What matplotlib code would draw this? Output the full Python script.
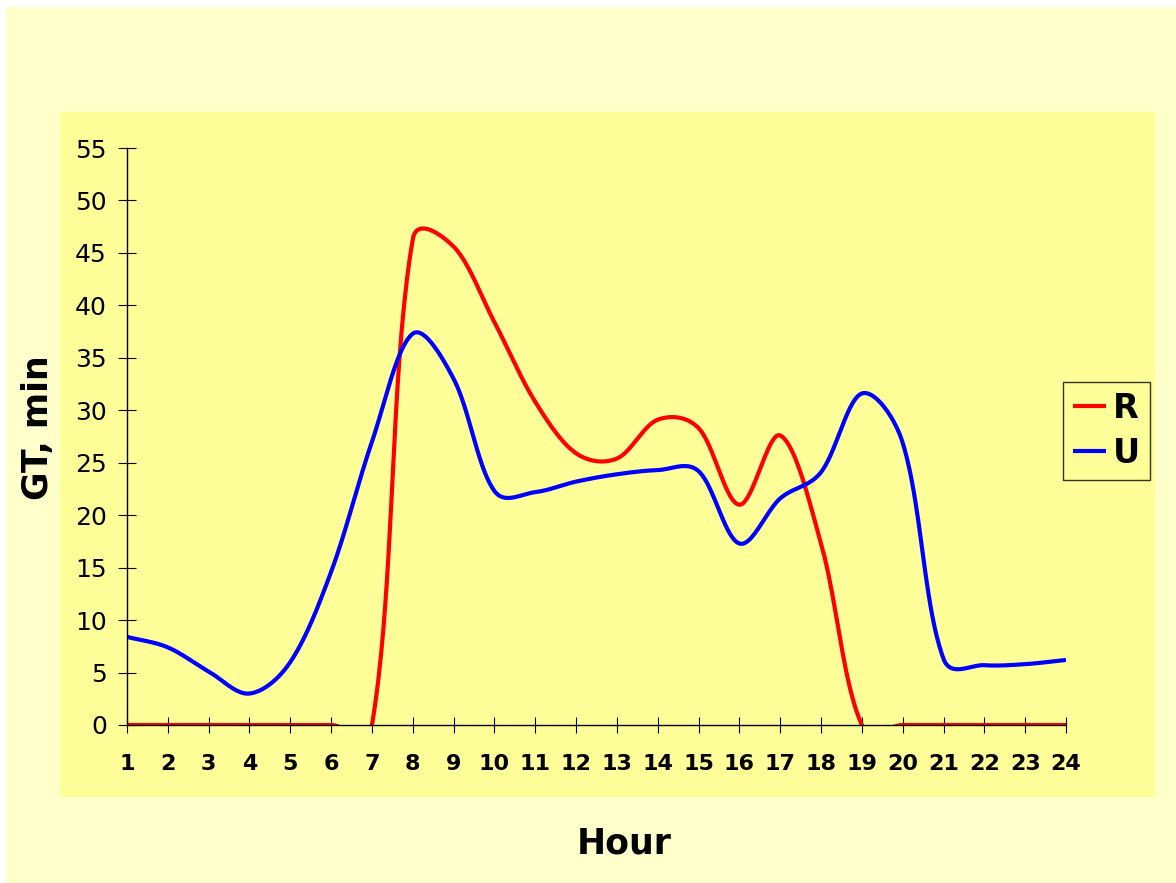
import numpy as np
import matplotlib
matplotlib.use("Agg")
import matplotlib.pyplot as plt
from matplotlib.patches import Rectangle

# hourly values
hours = list(range(1, 25))
gt_r = [0, 0, 0, 0, 0, 0, 0, 46.3, 45.6, 38.4, 30.8, 25.9,
        25.4, 29.1, 28.3, 21.0, 27.6, 17.3, 0, 0, 0, 0, 0, 0]
gt_u = [8.4, 7.4, 5.1, 3.0, 6.0, 14.6, 27.0, 37.3, 33.0, 22.3, 22.2, 23.2,
        23.9, 24.3, 24.2, 17.3, 21.6, 24.1, 31.6, 26.9, 6.3, 5.7, 5.8, 6.2]

# relative weights of x and y when measuring chord lengths for the smoothing
SX, SY = 40.83, 5.25


def smooth(xs, ys, n=40):
    # bezier smoothing through every point, tangents split by chord lengths
    p = np.column_stack([xs, ys]).astype(float)
    q = np.vstack([p[0], p, p[-1]])
    scale = np.array([SX, SY])
    cl, cr = [], []
    for i in range(1, len(q) - 1):
        d = (q[i + 1] - q[i - 1]) / 6.0
        l0 = np.hypot(*((q[i] - q[i - 1]) * scale))
        l1 = np.hypot(*((q[i + 1] - q[i]) * scale))
        tot = l0 + l1 if l0 + l1 > 0 else 1.0
        cl.append(q[i] - d * 2 * l0 / tot)
        cr.append(q[i] + d * 2 * l1 / tot)
    out = []
    t = np.linspace(0, 1, n)[:, None]
    for i in range(len(p) - 1):
        a, b, c, d = p[i], cr[i], cl[i + 1], p[i + 1]
        seg = (1 - t) ** 3 * a + 3 * (1 - t) ** 2 * t * b + 3 * (1 - t) * t ** 2 * c + t ** 3 * d
        out.append(seg if i == 0 else seg[1:])
    out = np.vstack(out)
    return out[:, 0], out[:, 1]


W, H = 1176, 883
fig = plt.figure(figsize=(W / 100, H / 100), dpi=100, facecolor="white")

# chart area and plot area backgrounds
fig.patches.append(Rectangle((6 / W, 0), 1, 1 - 7 / H, transform=fig.transFigure,
                             facecolor="#FFFFCC", edgecolor="none", zorder=-10))
fig.patches.append(Rectangle((60 / W, 1 - 797 / H), (1155 - 60) / W, (797 - 112) / H,
                             transform=fig.transFigure, facecolor="#FFFF99",
                             edgecolor="none", zorder=-9))

ax = fig.add_axes([127 / W, 1 - 725 / H, (1066 - 127) / W, (725 - 148) / H])
ax.patch.set_alpha(0)

xr, yr = smooth(hours, gt_r)
xu, yu = smooth(hours, gt_u)
ax.plot(xr, yr, color="#FF0000", lw=3, label="R", solid_capstyle="butt")
ax.plot(xu, yu, color="#0000FF", lw=3, label="U", solid_capstyle="butt")

ax.set_xlim(1, 24)
ax.set_ylim(0, 55)
ax.set_xticks(hours)
ax.set_yticks(range(0, 56, 5))
for s in ["top", "right"]:
    ax.spines[s].set_visible(False)
for s in ["left", "bottom"]:
    ax.spines[s].set_linewidth(1)
    ax.spines[s].set_color("black")

ax.tick_params(axis="y", direction="inout", length=13, width=0.8, pad=8,
               labelsize=18)
ax.tick_params(axis="x", direction="inout", length=12, width=0.8, pad=15,
               labelsize=16)
for lab in ax.get_xticklabels():
    lab.set_fontweight("bold")

fig.text(624 / W, 1 - 843 / H, "Hour", ha="center", va="center",
         fontsize=25, fontweight="bold")
fig.text(38 / W, 1 - 428 / H, "GT, min", ha="center", va="center",
         rotation=90, fontsize=25, fontweight="bold")

leg = ax.legend(loc="upper left", bbox_to_anchor=(1063 / W, 1 - 382 / H),
                bbox_transform=fig.transFigure, frameon=True, fancybox=False,
                prop={"size": 24, "weight": "bold"}, handlelength=1.0,
                handletextpad=0.2, labelspacing=0.35, borderpad=0.3,
                borderaxespad=0)
leg.get_frame().set_edgecolor("black")
leg.get_frame().set_facecolor("#FFFF99")
leg.get_frame().set_linewidth(1)

fig.savefig("out.png", dpi=100, facecolor=fig.get_facecolor())
